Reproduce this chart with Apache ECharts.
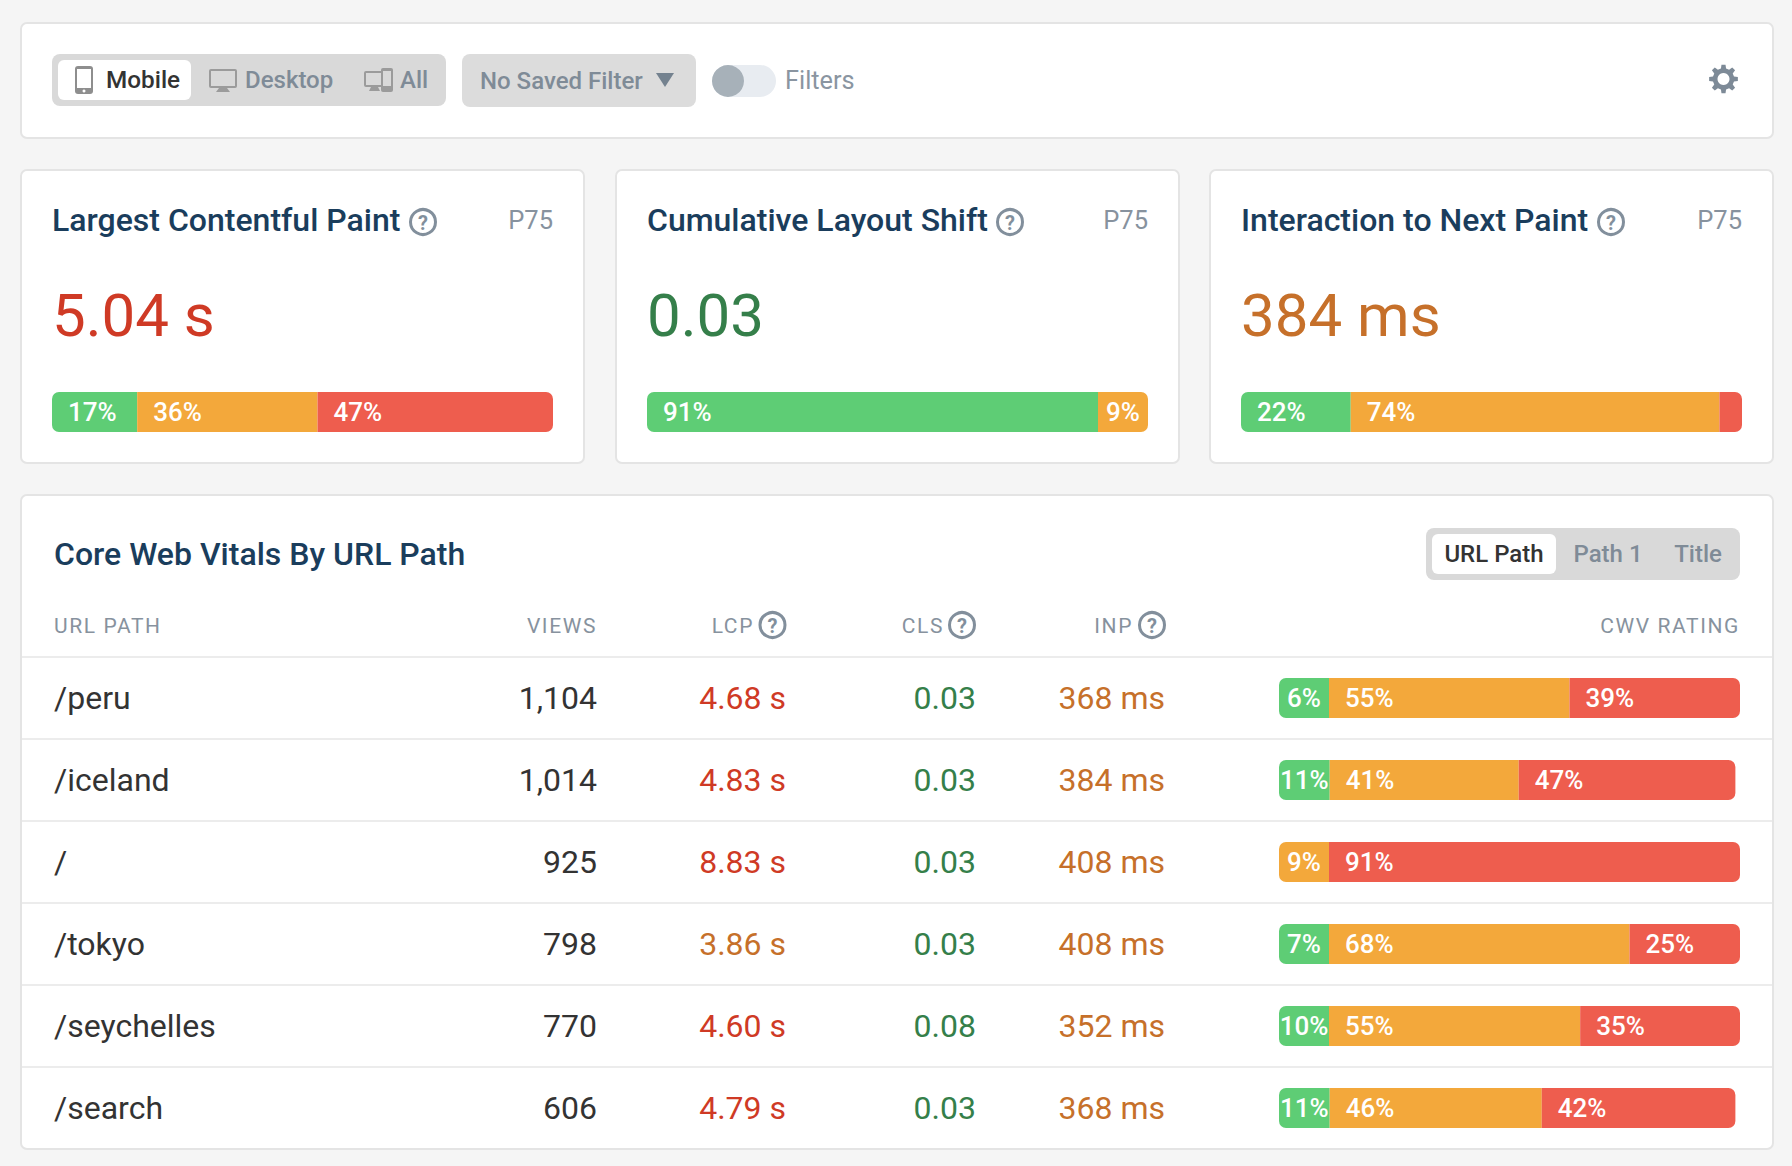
<!DOCTYPE html>
<html>
<head>
<meta charset="utf-8">
<title>Core Web Vitals</title>
<style>
  html, body { margin: 0; padding: 0; background: #f5f5f5; }
  #main { width: 1792px; height: 1166px; }
  /* zrender has no letter spacing, table headers are the only 21px text */
  #main text[style*="21px"] { letter-spacing: 1.6px; }
</style>
<script src="https://cdn.jsdelivr.net/npm/echarts@6/dist/echarts.min.js"></script>
</head>
<body>
<div id="main"></div>
<script>
// top metric cards
const metricNames = ['Largest Contentful Paint', 'Cumulative Layout Shift', 'Interaction to Next Paint'];
const metricValues = ['5.04 s', '0.03', '384 ms'];
const metricColors = ['red', 'green', 'orange'];
const metricGreen = [17, 91, 21.9];
const metricOrange = [36, 9, 73.6];
const metricRed = [47, 0, 4.5];

// table
const urlPaths = ['/peru', '/iceland', '/', '/tokyo', '/seychelles', '/search'];
const views = ['1,104', '1,014', '925', '798', '770', '606'];
const lcp = ['4.68 s', '4.83 s', '8.83 s', '3.86 s', '4.60 s', '4.79 s'];
const lcpRating = ['red', 'red', 'red', 'orange', 'red', 'red'];
const cls = ['0.03', '0.03', '0.03', '0.03', '0.08', '0.03'];
const inp = ['368 ms', '384 ms', '408 ms', '408 ms', '352 ms', '368 ms'];
const tableGreen = [6, 11, 0, 7, 10, 11];
const tableOrange = [55, 41, 9, 68, 55, 46];
const tableRed = [39, 47, 91, 25, 35, 42];

const FONT = 'Roboto';
const textColors = { red: '#cf3a25', green: '#357f4a', orange: '#c6702a' };
const BAR_GREEN = '#5ecd75', BAR_ORANGE = '#f3a83b', BAR_RED = '#ee5d4e';
const NAVY = '#1a3d5c', GREY = '#87929e', DARK = '#333333', ICON = '#9b9b9b';
const MIN_SEG = 50, RADIUS = 7;

const chart = echarts.init(document.getElementById('main'), null, { renderer: 'svg' });
const g = [];

function text(str, x, y, size, color, align, weight) {
  g.push({
    type: 'text', z: 5,
    style: {
      text: str, x: x, y: y, fill: color,
      font: (weight || 400) + ' ' + size + 'px ' + FONT,
      align: align || 'left', verticalAlign: 'middle',
      textAlign: align || 'left', textVerticalAlign: 'middle'
    }
  });
}
function rect(x, y, w, h, r, fill, stroke, z) {
  g.push({
    type: 'rect', z: z === undefined ? 1 : z,
    shape: { x: x, y: y, width: w, height: h, r: r },
    style: { fill: fill, stroke: stroke || null, lineWidth: stroke ? 2 : 0 }
  });
}
function card(x, y, w, h) { rect(x, y, w, h, 6, '#ffffff', '#e4e4e4', 0); }
function helpIcon(x, y) {
  g.push({ type: 'circle', z: 5, shape: { cx: x, cy: y, r: 12.5 }, style: { fill: 'none', stroke: '#828f9c', lineWidth: 3 } });
  text('?', x, y + 1, 20, '#828f9c', 'center', 700);
}
function poly(points, fill, z) {
  g.push({ type: 'polygon', z: z || 5, shape: { points: points }, style: { fill: fill } });
}

// filter bar
card(21, 23, 1752, 115);
rect(52, 54, 394, 52, 8, '#d9d9d9');
rect(58, 60, 133, 40, 6, '#ffffff', null, 2);
// phone icon
rect(75, 66, 18, 28, 3, '#8e8e8e', null, 3);
rect(77, 69, 14, 19, 0, '#ffffff', null, 4);
g.push({ type: 'circle', z: 4, shape: { cx: 84, cy: 91, r: 1.5 }, style: { fill: '#ffffff' } });
text('Mobile', 106, 79.5, 24.3, DARK, 'left', 500);
// desktop icon
rect(209, 69, 28, 19, 2, ICON, null, 3);
rect(211, 71, 24, 15, 0, '#d9d9d9', null, 4);
poly([[219, 88], [227, 88], [230, 92], [216, 92]], ICON, 3);
text('Desktop', 245, 79.5, 24, '#7f8b97', 'left', 500);
// desktop + phone icon
rect(364, 71, 21, 16, 2, ICON, null, 3);
rect(366, 73, 17, 12, 0, '#d9d9d9', null, 4);
poly([[371, 87], [378, 87], [380, 91], [369, 91]], ICON, 3);
rect(381, 68, 12, 24, 2, ICON, null, 5);
rect(383, 71, 8, 15, 0, '#d9d9d9', null, 6);
text('All', 400, 79.5, 24, '#7f8b97', 'left', 500);

rect(462, 54, 234, 53, 8, '#dcdcdc');
text('No Saved Filter', 480, 80.5, 24, '#7f8b97', 'left', 500);
poly([[656, 73], [674, 73], [665, 87]], '#74828f');

rect(712, 65, 64, 32, 16, '#e8ecf1');
g.push({ type: 'circle', z: 3, shape: { cx: 728, cy: 81, r: 16 }, style: { fill: '#a7b1b9' } });
text('Filters', 785, 80.5, 25.3, '#8a95a1');

// settings gear
const gearPts = [];
for (let i = 0; i < 8; i++) {
  const a = i * Math.PI / 4 - Math.PI / 2;
  [[-0.24, 10.8], [-0.14, 14.5], [0.14, 14.5], [0.24, 10.8]].forEach(function (p) {
    gearPts.push([1723.5 + p[1] * Math.cos(a + p[0]), 79 + p[1] * Math.sin(a + p[0])]);
  });
}
poly(gearPts, '#7d8a97');
g.push({ type: 'circle', z: 6, shape: { cx: 1723.5, cy: 79, r: 6 }, style: { fill: '#ffffff' } });

// metric cards
const cardX = [21, 616, 1210];
const barX = [52, 647, 1241];
const BAR_W = 501;
metricNames.forEach(function (name, i) {
  card(cardX[i], 170, 563, 293);
  text(name, barX[i], 220, 32, NAVY, 'left', 500);
  text('P75', barX[i] + BAR_W, 220, 25.5, GREY, 'right');
  text(metricValues[i], barX[i], 315, 60, textColors[metricColors[i]]);
});
helpIcon(423, 222);
helpIcon(1010, 222);
helpIcon(1611, 222);

// table card
card(21, 495, 1752, 654);
text('Core Web Vitals By URL Path', 54, 554, 32, NAVY, 'left', 500);
rect(1426, 528, 314, 52, 8, '#d9d9d9');
rect(1432, 534, 124, 40, 6, '#ffffff', null, 2);
text('URL Path', 1494, 553.5, 24, DARK, 'center', 500);
text('Path 1', 1608, 553.5, 24, '#7f8b97', 'center', 500);
text('Title', 1698, 553.5, 24, '#7f8b97', 'center', 500);

text('URL PATH', 54, 625.5, 21, GREY);
text('VIEWS', 597, 625.5, 21, GREY, 'right');
text('LCP', 754, 625.5, 21, GREY, 'right');
text('CLS', 944, 625.5, 21, GREY, 'right');
text('INP', 1133, 625.5, 21, GREY, 'right');
text('CWV RATING', 1740, 625.5, 21, GREY, 'right');
helpIcon(772.5, 625);
helpIcon(962, 625);
helpIcon(1152, 625);

const TABLE_TOP = 657, ROW_H = 82, TRACK_W = 461;
urlPaths.forEach(function (path, i) {
  const y = TABLE_TOP + ROW_H * (i + 0.5);
  g.push({
    type: 'rect', z: 1,
    shape: { x: 22, y: TABLE_TOP + ROW_H * i - 1, width: 1750, height: 2 },
    style: { fill: '#ececec' }
  });
  text(path, 54, y, 32, DARK);
  text(views[i], 597, y, 32, DARK, 'right');
  text(lcp[i], 786, y, 32, textColors[lcpRating[i]], 'right');
  text(cls[i], 976, y, 32, textColors.green, 'right');
  text(inp[i], 1165, y, 32, textColors.orange, 'right');
});

// the page keeps a minimum width on labelled segments, the others give way
function segmentShares(values, trackPx) {
  const minShare = MIN_SEG / trackPx * 100;
  const labelled = values.map(v => v >= 5);
  let extra = 0, rest = 0;
  values.forEach(function (v, k) {
    if (labelled[k] && v < minShare) extra += minShare - v;
    else rest += v;
  });
  return values.map(function (v, k) {
    if (labelled[k] && v < minShare) return minShare;
    return v - extra * v / rest;
  });
}

// one stacked bar series per rating, for one grid
function stackSeries(gridIndex, greens, oranges, reds, trackPx, barPx) {
  const rows = greens.map((v, r) => segmentShares([v, oranges[r], reds[r]], trackPx));
  const raw = greens.map((v, r) => [v, oranges[r], reds[r]]);
  return [BAR_GREEN, BAR_ORANGE, BAR_RED].map(function (color, s) {
    return {
      type: 'bar', stack: 'g' + gridIndex, silent: true, animation: false, z: 4,
      xAxisIndex: gridIndex, yAxisIndex: gridIndex, barWidth: barPx,
      data: rows.map(function (shares, r) {
        const first = shares.findIndex(v => v > 0);
        let last = 2;
        while (shares[last] <= 0) last--;
        const pct = raw[r][s];
        const px = shares[s] / 100 * trackPx;
        const narrow = px < 56;
        return {
          value: shares[s],
          itemStyle: {
            color: color,
            borderRadius: [s === first ? RADIUS : 0, s === last ? RADIUS : 0, s === last ? RADIUS : 0, s === first ? RADIUS : 0]
          },
          label: {
            show: pct >= 5,
            position: narrow ? 'inside' : 'insideLeft',
            distance: narrow ? 0 : 16,
            formatter: Math.round(pct) + '%',
            color: '#ffffff', fontFamily: FONT, fontWeight: 500, fontSize: 26
          }
        };
      })
    };
  });
}

const grids = [], xAxes = [], yAxes = [];
let series = [];
function addGrid(left, top, width, height, cats) {
  grids.push({ left: left, top: top, width: width, height: height });
  xAxes.push({ type: 'value', min: 0, max: 100, show: false, gridIndex: grids.length - 1 });
  yAxes.push({ type: 'category', data: cats, inverse: true, show: false, gridIndex: grids.length - 1 });
}
metricNames.forEach(function (name, i) {
  addGrid(barX[i], 392, BAR_W, 40, [name]);
  series = series.concat(stackSeries(i, [metricGreen[i]], [metricOrange[i]], [metricRed[i]], BAR_W, 40));
});
addGrid(1279, TABLE_TOP, TRACK_W, ROW_H * urlPaths.length, urlPaths);
series = series.concat(stackSeries(3, tableGreen, tableOrange, tableRed, TRACK_W, 40));

chart.setOption({
  backgroundColor: '#f5f5f5',
  animation: false,
  textStyle: { fontFamily: FONT },
  grid: grids,
  xAxis: xAxes,
  yAxis: yAxes,
  series: series,
  graphic: { elements: g }
});
</script>
</body>
</html>
